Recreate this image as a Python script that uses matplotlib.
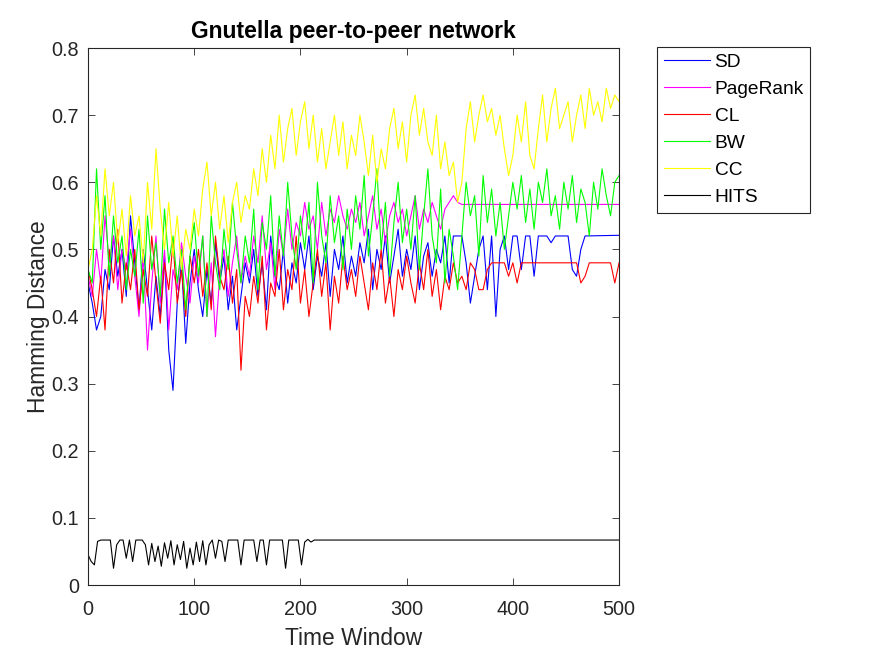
import numpy as np
import matplotlib.pyplot as plt

plt.rcParams['font.family'] = ['Liberation Sans', 'DejaVu Sans']

# time windows (step 4 for the noisy series)
t4 = np.arange(0, 501, 4)

# CC (yellow)
cc = [0.47, 0.50, 0.58, 0.52, 0.62, 0.55, 0.60, 0.51, 0.56, 0.49, 0.58,
      0.52, 0.55, 0.48, 0.60, 0.53, 0.65, 0.56, 0.50, 0.57, 0.49, 0.55, 0.47, 0.53, 0.50, 0.56,
      0.52, 0.59, 0.63, 0.55, 0.60, 0.53, 0.58, 0.51, 0.57, 0.60, 0.54, 0.58,
      0.56, 0.62, 0.58, 0.65, 0.60, 0.67, 0.62, 0.70, 0.63, 0.68, 0.71, 0.64, 0.69,
      0.72, 0.65, 0.70, 0.63, 0.68, 0.62, 0.66, 0.70, 0.64, 0.69, 0.62, 0.67,
      0.64, 0.70, 0.66, 0.61, 0.67, 0.60, 0.65, 0.62, 0.68, 0.71, 0.65, 0.69, 0.63,
      0.70, 0.73, 0.67, 0.71, 0.66, 0.64, 0.70, 0.62, 0.66, 0.61, 0.63, 0.57,
      0.60, 0.68, 0.72, 0.66, 0.70, 0.73, 0.69, 0.71, 0.67, 0.70, 0.65, 0.61, 0.64,
      0.70, 0.66, 0.72, 0.64, 0.62, 0.68, 0.73, 0.66, 0.71, 0.74, 0.68, 0.70,
      0.72, 0.66, 0.70, 0.73, 0.68, 0.74, 0.70, 0.72, 0.69, 0.74, 0.71, 0.73, 0.72]

# BW (green)
bw = [0.47, 0.45, 0.62, 0.50, 0.58, 0.46, 0.55, 0.48, 0.52, 0.44, 0.50,
      0.46, 0.53, 0.42, 0.55, 0.47, 0.51, 0.43, 0.56, 0.48, 0.52, 0.45, 0.50, 0.41, 0.49, 0.54,
      0.46, 0.52, 0.40, 0.55, 0.48, 0.44, 0.53, 0.47, 0.57, 0.50, 0.45, 0.52,
      0.48, 0.56, 0.44, 0.54, 0.50, 0.58, 0.46, 0.55, 0.49, 0.60, 0.52, 0.47, 0.55,
      0.50, 0.57, 0.45, 0.60, 0.52, 0.48, 0.58, 0.51, 0.55, 0.47, 0.56, 0.50,
      0.58, 0.53, 0.61, 0.49, 0.55, 0.62, 0.50, 0.57, 0.46, 0.54, 0.60, 0.51, 0.56,
      0.50, 0.58, 0.47, 0.55, 0.62, 0.52, 0.48, 0.59, 0.45, 0.53, 0.49, 0.44,
      0.52, 0.60, 0.55, 0.58, 0.49, 0.61, 0.54, 0.59, 0.52, 0.57, 0.50, 0.55, 0.60,
      0.56, 0.61, 0.54, 0.59, 0.53, 0.60, 0.57, 0.62, 0.55, 0.58, 0.53, 0.60,
      0.56, 0.61, 0.54, 0.59, 0.57, 0.52, 0.60, 0.56, 0.62, 0.58, 0.55, 0.60, 0.61]

# PageRank (magenta), flat after t=352
pr_t = list(range(0, 349, 4)) + [352, 500]
pr = [0.46, 0.43, 0.50, 0.45, 0.55, 0.48, 0.52, 0.44, 0.50, 0.47, 0.53,
      0.46, 0.40, 0.49, 0.35, 0.45, 0.52, 0.42, 0.50, 0.38, 0.47, 0.44, 0.51, 0.46, 0.42, 0.49,
      0.45, 0.52, 0.40, 0.48, 0.37, 0.46, 0.50, 0.43, 0.48, 0.52, 0.45, 0.49,
      0.46, 0.52, 0.48, 0.55, 0.47, 0.51, 0.44, 0.53, 0.49, 0.56, 0.50, 0.54, 0.52,
      0.57, 0.53, 0.55, 0.50, 0.57, 0.52, 0.56, 0.54, 0.58, 0.55, 0.53, 0.56,
      0.54, 0.57, 0.52, 0.55, 0.58, 0.53, 0.56, 0.51, 0.55, 0.57, 0.54, 0.56, 0.52,
      0.55, 0.58, 0.53, 0.56, 0.54, 0.57, 0.55, 0.53, 0.56, 0.57, 0.58, 0.57,
      0.567, 0.567]

# SD (blue), flat after t=468
sd_t = list(range(0, 469, 4)) + [500]
sd = [0.45, 0.42, 0.38, 0.40, 0.47, 0.44, 0.52, 0.46, 0.50, 0.43, 0.55,
      0.48, 0.41, 0.50, 0.44, 0.38, 0.46, 0.40, 0.49, 0.35, 0.29, 0.42, 0.48, 0.36, 0.45, 0.50,
      0.44, 0.40, 0.47, 0.42, 0.51, 0.45, 0.49, 0.41, 0.46, 0.38, 0.43, 0.48,
      0.45, 0.50, 0.43, 0.48, 0.41, 0.52, 0.46, 0.44, 0.50, 0.42, 0.48, 0.45, 0.51,
      0.47, 0.52, 0.44, 0.49, 0.46, 0.51, 0.43, 0.50, 0.47, 0.52, 0.45, 0.49,
      0.46, 0.51, 0.48, 0.53, 0.44, 0.50, 0.47, 0.52, 0.45, 0.49, 0.53, 0.46, 0.50,
      0.47, 0.52, 0.44, 0.49, 0.51, 0.46, 0.50, 0.48, 0.52, 0.45, 0.52, 0.52,
      0.52, 0.48, 0.42, 0.46, 0.50, 0.52, 0.44, 0.52, 0.40, 0.50, 0.52, 0.47, 0.52,
      0.52, 0.47, 0.52, 0.52, 0.46, 0.52, 0.52, 0.52, 0.51, 0.52, 0.52, 0.52,
      0.52, 0.47, 0.46, 0.50, 0.52,
      0.521]

# CL (red)
cl = [0.47, 0.44, 0.40, 0.46, 0.38, 0.50, 0.45, 0.53, 0.42, 0.48, 0.44,
      0.50, 0.41, 0.47, 0.43, 0.52, 0.45, 0.39, 0.48, 0.44, 0.51, 0.42, 0.47, 0.40, 0.49, 0.45,
      0.50, 0.43, 0.48, 0.41, 0.52, 0.46, 0.44, 0.49, 0.42, 0.47, 0.32, 0.43,
      0.40, 0.46, 0.42, 0.49, 0.38, 0.45, 0.43, 0.50, 0.41, 0.47, 0.44, 0.52, 0.42,
      0.47, 0.40, 0.45, 0.50, 0.43, 0.48, 0.38, 0.46, 0.42, 0.49, 0.44, 0.47,
      0.43, 0.49, 0.45, 0.41, 0.48, 0.44, 0.50, 0.42, 0.46, 0.40, 0.47, 0.44, 0.49,
      0.45, 0.42, 0.48, 0.44, 0.50, 0.43, 0.47, 0.41, 0.46, 0.44, 0.48, 0.45,
      0.46, 0.44, 0.48, 0.47, 0.44, 0.44, 0.47, 0.48, 0.48, 0.48, 0.48, 0.46, 0.48,
      0.45, 0.48, 0.48, 0.48, 0.48, 0.48, 0.48, 0.48, 0.48, 0.48, 0.48, 0.48,
      0.48, 0.48, 0.48, 0.45, 0.46, 0.48, 0.48, 0.48, 0.48, 0.48, 0.48, 0.45, 0.48]

# HITS (black), flat after t=216
hits_t = list(range(0, 217, 3)) + [500]
hits = [0.045, 0.035, 0.030, 0.065, 0.067, 0.067, 0.067, 0.067, 0.025, 0.060,
        0.067, 0.067, 0.040, 0.067, 0.035, 0.067, 0.067, 0.067, 0.060, 0.030,
        0.062, 0.035, 0.058, 0.028, 0.063, 0.040, 0.066, 0.030, 0.060, 0.038,
        0.065, 0.025, 0.055, 0.030, 0.064, 0.035, 0.066, 0.030, 0.060, 0.067,
        0.040, 0.067, 0.065, 0.035, 0.067, 0.067, 0.067, 0.067, 0.030, 0.067,
        0.067, 0.067, 0.067, 0.035, 0.067, 0.067, 0.030, 0.067, 0.067, 0.067,
        0.067, 0.067, 0.025, 0.067, 0.067, 0.067, 0.067, 0.030, 0.064, 0.068,
        0.064, 0.067, 0.067,
        0.067]

fig = plt.figure(figsize=(8.75, 6.56), dpi=100)
ax = fig.add_axes([0.1006, 0.1082, 0.6069, 0.8186])

lw = 0.8
ax.plot(sd_t, sd, color=(0, 0, 1), lw=lw, label='SD')
ax.plot(pr_t, pr, color=(1, 0, 1), lw=lw, label='PageRank')
ax.plot(t4, cl, color=(1, 0, 0), lw=lw, label='CL')
ax.plot(t4, bw, color=(0, 1, 0), lw=lw, label='BW')
ax.plot(t4, cc, color=(1, 1, 0), lw=lw, label='CC')
ax.plot(hits_t, hits, color=(0, 0, 0), lw=lw, label='HITS')

ax.set_xlim(0, 500)
ax.set_ylim(0, 0.8)
ax.set_xticks([0, 100, 200, 300, 400, 500])
ax.set_yticks(np.arange(0, 0.81, 0.1))
ax.set_yticklabels(['0', '0.1', '0.2', '0.3', '0.4', '0.5', '0.6', '0.7', '0.8'])
ax.tick_params(direction='in', length=5, width=0.6, labelsize=14.3,
               colors='#262626', top=True, right=True)
ax.tick_params(axis='x', pad=10.5)
ax.tick_params(axis='y', pad=6.5)
for s in ax.spines.values():
    s.set_color('#262626')
    s.set_linewidth(0.8)

ax.set_xlabel('Time Window', fontsize=16.4, color='#262626', labelpad=6)
ax.set_ylabel('Hamming Distance', fontsize=16.4, color='#262626', labelpad=1)
ax.set_title('Gnutella peer-to-peer network', fontsize=16.5, fontweight='bold', pad=7)

leg = ax.legend(loc='upper left', bbox_to_anchor=(657 / 875, 1 - 47 / 656),
                bbox_transform=fig.transFigure, borderaxespad=0, fontsize=13.8,
                fancybox=False, framealpha=1, edgecolor='#262626',
                handlelength=2.4, handletextpad=0.25, labelspacing=0.5,
                borderpad=0.35)
leg.get_frame().set_linewidth(0.8)

fig.savefig('out.png', dpi=100)
